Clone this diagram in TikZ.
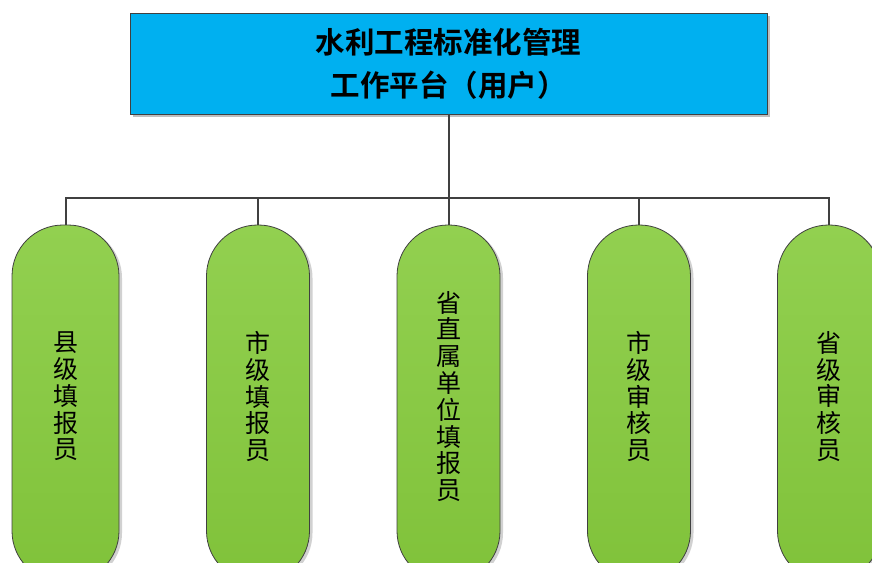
\documentclass[tikz,border=0pt]{standalone}
\usepackage{fontspec}
\setmainfont{Noto Sans CJK SC}
\newfontfamily\cjkbold{Noto Sans CJK SC Bold}
\usetikzlibrary{shadows}
\definecolor{titleblue}{RGB}{0,176,240}
\definecolor{leafgreen}{RGB}{146,208,80}
\definecolor{leafdark}{RGB}{128,194,58}
\definecolor{wire}{RGB}{64,64,64}

\begin{document}
\begin{tikzpicture}[x=1pt,y=-1pt,line width=2pt,draw=wire,
  title node/.style={rectangle,draw=wire,line width=0.8pt,fill=titleblue,
    minimum width=637pt,minimum height=101pt,align=center,
    font=\cjkbold\fontsize{29.5}{43}\selectfont,
    drop shadow={shadow xshift=3pt,shadow yshift=-3pt,fill=black!25,opacity=1}},
  role node/.style={rectangle,rounded corners=51pt,draw=wire,line width=0.8pt,
    top color=leafgreen,bottom color=leafdark,
    minimum width=103pt,minimum height=357pt,
    drop shadow={shadow xshift=3pt,shadow yshift=-2pt,fill=black!18,opacity=1}},
  role text/.style={align=center,yshift=7pt,inner sep=0pt,
    font=\fontsize{25}{26.8}\selectfont}]

  \useasboundingbox (0,0) rectangle (872,562);
  \clip (0,0) rectangle (872,562);

  \node[title node] (top) at (448.5,63.5) {水利工程标准化管理\\工作平台（用户）};

  \node[role node, minimum width=107pt,
    label={[role text]center:县\\级\\填\\报\\员}] (1) at (65.5,403.5) {};
  \node[role node,
    label={[role text]center:市\\级\\填\\报\\员}] (2) at (258,403.5) {};
  \node[role node,
    label={[role text]center:省\\直\\属\\单\\位\\填\\报\\员}] (3) at (448.5,403.5) {};
  \node[role node,
    label={[role text]center:市\\级\\审\\核\\员}] (4) at (639,403.5) {};
  \node[role node,
    label={[role text]center:省\\级\\审\\核\\员}] (5) at (829,403.5) {};

  \coordinate (bus) at (448.5,198);

  \draw[wire] (top.south) -- (bus);
  \foreach \n in {1,2,3,4,5}
    \draw[wire] (bus) -| (\n.north);

\end{tikzpicture}
\end{document}
